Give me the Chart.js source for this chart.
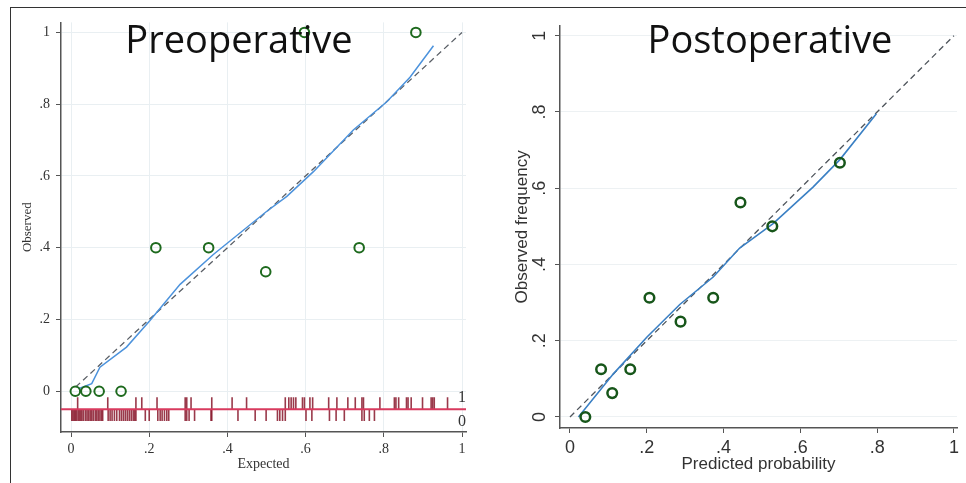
<!DOCTYPE html>
<html>
<head>
<meta charset="utf-8">
<script src="https://cdn.jsdelivr.net/npm/chart.js@4"></script>
<style>
body { margin: 0; background: #fff; width: 966px; height: 483px; overflow: hidden; position: relative; }
#frame { position: absolute; left: 10px; top: 7px; width: 960px; height: 480px; border-left: 1.5px solid #333; border-top: 1.5px solid #333; }
canvas { position: absolute; }
#pre { left: 11px; top: 8px; }
#post { left: 480px; top: 8px; }
.ttl { position: absolute; font-family: "Open Sans", sans-serif; font-size: 38px; line-height: 38px; color: #111; transform: translateX(-50%); white-space: nowrap; }
</style>
</head>
<body>
<div id="frame"></div>
<canvas id="pre" width="469" height="475"></canvas>
<canvas id="post" width="486" height="475"></canvas>
<div class="ttl" style="left:239px;top:19px">Preoperative</div>
<div class="ttl" style="left:770px;top:19px">Postoperative</div>
<script>
// preoperative: grouped points, lowess curve, rug of cases
var preExpected = [0.011, 0.038, 0.072, 0.128, 0.217, 0.352, 0.498, 0.597, 0.737, 0.882];
var preObserved = [0, 0, 0, 0, 0.4, 0.4, 0.333, 1, 0.4, 1];
var preSmoothX = [0.019, 0.053, 0.074, 0.142, 0.202, 0.279, 0.364, 0.5, 0.552, 0.62, 0.722, 0.807, 0.867, 0.927];
var preSmoothY = [0.007, 0.021, 0.067, 0.123, 0.197, 0.298, 0.381, 0.501, 0.543, 0.612, 0.728, 0.806, 0.875, 0.963];
var preRugOne = [0.017, 0.094, 0.166, 0.181, 0.220, 0.292, 0.296, 0.307, 0.360, 0.412, 0.449, 0.548, 0.557, 0.563,
    0.569, 0.575, 0.592, 0.597, 0.611, 0.618, 0.659, 0.680, 0.708, 0.727, 0.744, 0.748, 0.790, 0.827, 0.831,
    0.838, 0.858, 0.862, 0.870, 0.899, 0.921, 0.925, 0.929, 0.963];
var preRugZero = [0.002, 0.005, 0.008, 0.011, 0.014, 0.018, 0.021, 0.025, 0.028, 0.032, 0.037, 0.041, 0.045,
    0.049, 0.053, 0.057, 0.062, 0.066, 0.070, 0.074, 0.078, 0.081, 0.095, 0.100, 0.105, 0.111, 0.117, 0.124,
    0.129, 0.134, 0.139, 0.144, 0.149, 0.154, 0.159, 0.163, 0.166, 0.190, 0.200, 0.222, 0.228, 0.233, 0.239,
    0.245, 0.250, 0.292, 0.296, 0.302, 0.316, 0.358, 0.360, 0.427, 0.471, 0.499, 0.528, 0.534, 0.541, 0.548,
    0.601, 0.616, 0.661, 0.678, 0.699, 0.744, 0.750, 0.763, 0.776];

// postoperative: deciles of predicted probability
var postPredicted = [0.040, 0.081, 0.110, 0.157, 0.207, 0.288, 0.373, 0.444, 0.527, 0.703];
var postObserved = [0, 0.125, 0.0625, 0.125, 0.3125, 0.25, 0.3125, 0.5625, 0.5, 0.6667];
var postSmoothX = [0.022, 0.113, 0.2, 0.286, 0.373, 0.442, 0.529, 0.633, 0.703, 0.798];
var postSmoothY = [0, 0.113, 0.209, 0.295, 0.367, 0.443, 0.507, 0.603, 0.675, 0.795];

var axisTicks = [0, 0.2, 0.4, 0.6, 0.8, 1];

function pairs(xs, ys) {
    return xs.map(function (x, i) { return {x: x, y: ys[i]}; });
}

function rug(xs, y) {
    return xs.map(function (x) { return {x: x, y: y}; });
}

function stataLabel(v) {
    if (v === 0) return '0';
    if (v === 1) return '1';
    return v.toFixed(1).replace('0.', '.');
}

function fixTicks(scale) {
    scale.ticks = axisTicks.map(function (v) { return {value: v}; });
}

var pointStyle = {
    type: 'scatter', pointStyle: 'circle', pointRadius: 4.8, pointBorderWidth: 2,
    pointBackgroundColor: 'rgba(0,0,0,0)', pointBorderColor: '#1e6a1e'
};

// "1" and "0" beside the rug
var rugLabels = {
    id: 'rugLabels',
    afterDraw: function (chart) {
        if (chart.canvas.id !== 'pre') return;
        var ctx = chart.ctx;
        var x = chart.scales.x.getPixelForValue(1);
        ctx.save();
        ctx.font = '16px "Liberation Serif"';
        ctx.fillStyle = '#333';
        ctx.textAlign = 'center';
        ctx.textBaseline = 'middle';
        ctx.fillText('1', x, chart.scales.y.getPixelForValue(-0.019));
        ctx.fillText('0', x, chart.scales.y.getPixelForValue(-0.086));
        ctx.restore();
    }
};

var serif = {family: '"Liberation Serif", serif', size: 14};
var sans = {family: '"Liberation Sans", Arial, sans-serif', size: 18};
var rugColor = 'rgba(135,22,42,0.85)';

new Chart(document.getElementById('pre'), {
    type: 'scatter',
    data: {
        datasets: [
            Object.assign({data: pairs(preExpected, preObserved)}, pointStyle),
            {type: 'scatter', showLine: true, data: pairs(preSmoothX, preSmoothY), borderColor: '#4d93dc',
                borderWidth: 1.5, pointRadius: 0, tension: 0},
            {type: 'scatter', showLine: true, data: pairs([0.012, 1], [0.012, 1]), borderColor: '#5a5f66',
                borderWidth: 1.3, borderDash: [6, 4], pointRadius: 0},
            {type: 'scatter', showLine: true, data: rug([-0.0256, 1.0102], -0.05), borderColor: '#d83a5e',
                borderWidth: 2, pointRadius: 0},
            {type: 'scatter', data: rug(preRugOne, -0.0332), pointStyle: 'line', pointRotation: 90,
                pointRadius: 6, pointBorderWidth: 1.6, pointBorderColor: rugColor},
            {type: 'scatter', data: rug(preRugZero, -0.0665), pointStyle: 'line', pointRotation: 90,
                pointRadius: 6, pointBorderWidth: 1.6, pointBorderColor: rugColor}
        ]
    },
    options: {
        responsive: false,
        animation: false,
        layout: {padding: {top: 12, right: 14, left: 0, bottom: 0}},
        plugins: {legend: {display: false}, tooltip: {enabled: false}},
        scales: {
            x: {
                type: 'linear', min: -0.0256, max: 1.0102,
                afterBuildTicks: fixTicks,
                afterFit: function (s) { s.height = 51; },
                border: {color: '#555', width: 1.5},
                grid: {color: '#e9eff2', tickColor: '#555', tickLength: 5},
                ticks: {callback: stataLabel, font: serif, color: '#333', padding: 4, maxRotation: 0},
                title: {display: true, text: 'Expected', font: {family: serif.family, size: 14}, color: '#333',
                    padding: {top: 0, bottom: 10}}
            },
            y: {
                type: 'linear', min: -0.1136, max: 1.028,
                afterBuildTicks: fixTicks,
                afterFit: function (s) { s.width = 50; },
                border: {color: '#555', width: 1.5},
                grid: {color: '#e9eff2', tickColor: '#555', tickLength: 5},
                ticks: {callback: stataLabel, font: serif, color: '#333', padding: 6},
                title: {display: true, text: 'Observed', font: {family: serif.family, size: 13}, color: '#333',
                    padding: {top: 9, bottom: 0}}
            }
        }
    },
    plugins: [rugLabels]
});

new Chart(document.getElementById('post'), {
    type: 'scatter',
    data: {
        datasets: [
            Object.assign({data: pairs(postPredicted, postObserved)}, pointStyle, {pointBorderColor: '#17561a', pointBorderWidth: 2.5}),
            {type: 'scatter', showLine: true, data: pairs(postSmoothX, postSmoothY), borderColor: '#3b80c4',
                borderWidth: 1.6, pointRadius: 0, tension: 0},
            {type: 'scatter', showLine: true, data: pairs([0, 1], [0, 1]), borderColor: '#4f555c',
                borderWidth: 1.3, borderDash: [6, 4], pointRadius: 0}
        ]
    },
    options: {
        responsive: false,
        animation: false,
        layout: {padding: {top: 14, right: 9, left: 0, bottom: 0}},
        plugins: {legend: {display: false}, tooltip: {enabled: false}},
        scales: {
            x: {
                type: 'linear', min: -0.026, max: 1.008,
                afterBuildTicks: fixTicks,
                afterFit: function (s) { s.height = 55; },
                border: {color: '#555', width: 1.5},
                grid: {drawOnChartArea: false, tickColor: '#555', tickLength: 5},
                ticks: {callback: stataLabel, font: sans, color: '#333', padding: 4, maxRotation: 0},
                title: {display: true, text: 'Predicted probability', font: {family: sans.family, size: 17}, color: '#333',
                    padding: {top: 0, bottom: 8}}
            },
            y: {
                type: 'linear', min: -0.029, max: 1.026,
                afterBuildTicks: fixTicks,
                afterFit: function (s) { s.width = 80; },
                border: {color: '#555', width: 1.5},
                grid: {color: '#edf1f3', tickColor: '#555', tickLength: 5},
                ticks: {callback: stataLabel, font: sans, color: '#333', padding: 7, minRotation: 90, maxRotation: 90,
                    crossAlign: 'center'},
                title: {display: true, text: 'Observed frequency', font: {family: sans.family, size: 17}, color: '#333',
                    padding: {top: 32, bottom: 0}}
            }
        }
    }
});
</script>
</body>
</html>
